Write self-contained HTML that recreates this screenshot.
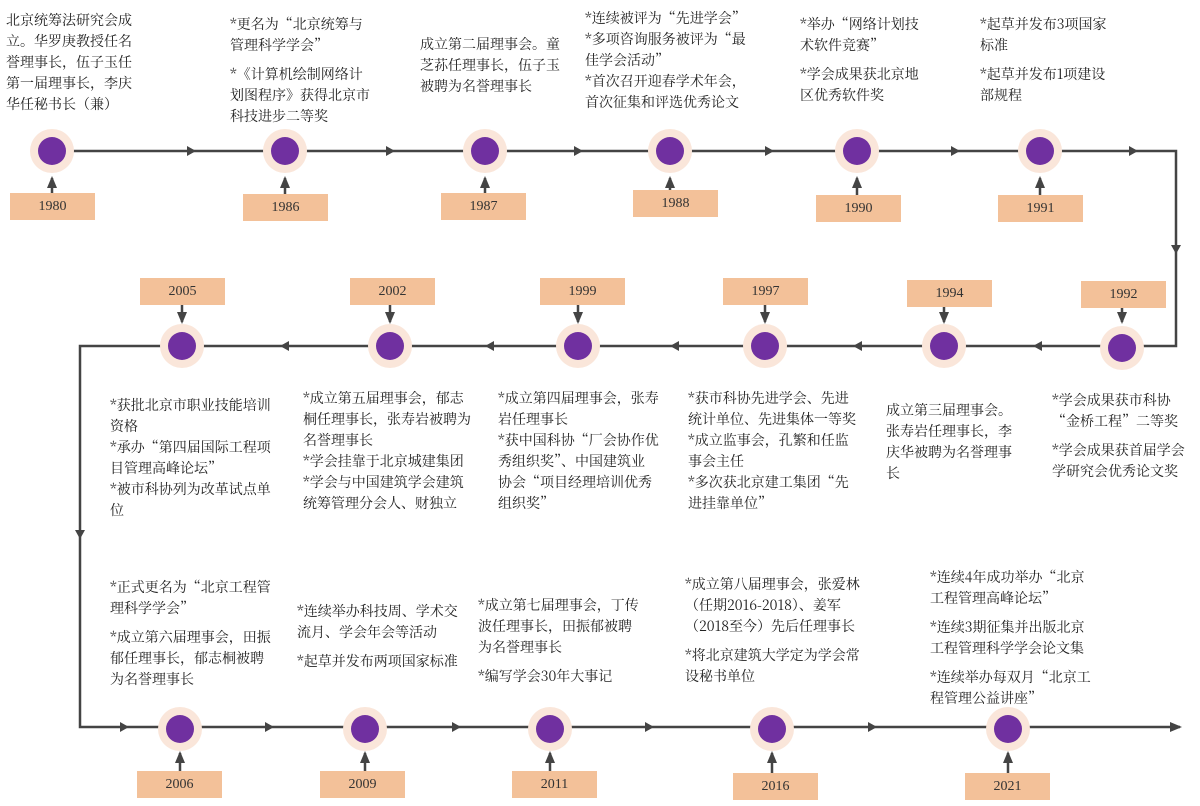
<!DOCTYPE html>
<html><head><meta charset="utf-8"><style>
body{margin:0;width:1200px;height:806px;background:#fff;position:relative;overflow:hidden;font-family:"Noto Serif CJK SC","Liberation Serif",serif;color:#222}
.t{position:absolute;font-size:14px;line-height:21px;white-space:nowrap}
.t p{margin:0 0 8px 0}
.y{position:absolute;width:85px;height:27px;background:#f3c199;font-size:14px;line-height:27px;text-align:center;color:#333;font-family:"Liberation Serif",serif}
svg{position:absolute;left:0;top:0}
</style></head><body>
<svg width="1200" height="806">
<defs>
<marker id="b" markerWidth="12" markerHeight="12" refX="10" refY="6" orient="auto" markerUnits="userSpaceOnUse"><path d="M0,1 L12,6 L0,11 z" fill="#444"/></marker></defs>
<g stroke="#444" stroke-width="2.5" fill="none">
<path d="M52,151 H1176 V346 H80 V727 H1180" marker-end="url(#b)"/>
</g>
<g stroke="#444" stroke-width="2.5">
<line x1="52" y1="193" x2="52" y2="178" marker-end="url(#b)"/>
<line x1="285" y1="194" x2="285" y2="178" marker-end="url(#b)"/>
<line x1="485" y1="193" x2="485" y2="178" marker-end="url(#b)"/>
<line x1="670" y1="190" x2="670" y2="178" marker-end="url(#b)"/>
<line x1="857" y1="195" x2="857" y2="178" marker-end="url(#b)"/>
<line x1="1040" y1="195" x2="1040" y2="178" marker-end="url(#b)"/>
<line x1="1122" y1="307" x2="1122" y2="322" marker-end="url(#b)"/>
<line x1="944" y1="307" x2="944" y2="322" marker-end="url(#b)"/>
<line x1="765" y1="305" x2="765" y2="322" marker-end="url(#b)"/>
<line x1="578" y1="305" x2="578" y2="322" marker-end="url(#b)"/>
<line x1="390" y1="305" x2="390" y2="322" marker-end="url(#b)"/>
<line x1="182" y1="305" x2="182" y2="322" marker-end="url(#b)"/>
<line x1="180" y1="771" x2="180" y2="753" marker-end="url(#b)"/>
<line x1="365" y1="771" x2="365" y2="753" marker-end="url(#b)"/>
<line x1="550" y1="771" x2="550" y2="753" marker-end="url(#b)"/>
<line x1="772" y1="773" x2="772" y2="753" marker-end="url(#b)"/>
<line x1="1008" y1="773" x2="1008" y2="753" marker-end="url(#b)"/>
</g>
<g fill="#444">
<path d="M187,146 L187,156 L196,151z"/><path d="M386,146 L386,156 L395,151z"/><path d="M574,146 L574,156 L583,151z"/><path d="M765,146 L765,156 L774,151z"/><path d="M951,146 L951,156 L960,151z"/><path d="M1129,146 L1129,156 L1138,151z"/>
<path d="M1171,245 L1181,245 L1176,254z"/>
<path d="M1042,341 L1042,351 L1033,346z"/><path d="M862,341 L862,351 L853,346z"/><path d="M679,341 L679,351 L670,346z"/><path d="M494,341 L494,351 L485,346z"/><path d="M289,341 L289,351 L280,346z"/>
<path d="M75,530 L85,530 L80,539z"/>
<path d="M120,722 L120,732 L129,727z"/><path d="M265,722 L265,732 L274,727z"/><path d="M452,722 L452,732 L461,727z"/><path d="M645,722 L645,732 L654,727z"/><path d="M868,722 L868,732 L877,727z"/>
</g>
<g>
<circle cx="52" cy="151" r="22" fill="#fae6da"/><circle cx="52" cy="151" r="14" fill="#7030a0"/>
<circle cx="285" cy="151" r="22" fill="#fae6da"/><circle cx="285" cy="151" r="14" fill="#7030a0"/>
<circle cx="485" cy="151" r="22" fill="#fae6da"/><circle cx="485" cy="151" r="14" fill="#7030a0"/>
<circle cx="670" cy="151" r="22" fill="#fae6da"/><circle cx="670" cy="151" r="14" fill="#7030a0"/>
<circle cx="857" cy="151" r="22" fill="#fae6da"/><circle cx="857" cy="151" r="14" fill="#7030a0"/>
<circle cx="1040" cy="151" r="22" fill="#fae6da"/><circle cx="1040" cy="151" r="14" fill="#7030a0"/>
<circle cx="1122" cy="348" r="22" fill="#fae6da"/><circle cx="1122" cy="348" r="14" fill="#7030a0"/>
<circle cx="944" cy="346" r="22" fill="#fae6da"/><circle cx="944" cy="346" r="14" fill="#7030a0"/>
<circle cx="765" cy="346" r="22" fill="#fae6da"/><circle cx="765" cy="346" r="14" fill="#7030a0"/>
<circle cx="578" cy="346" r="22" fill="#fae6da"/><circle cx="578" cy="346" r="14" fill="#7030a0"/>
<circle cx="390" cy="346" r="22" fill="#fae6da"/><circle cx="390" cy="346" r="14" fill="#7030a0"/>
<circle cx="182" cy="346" r="22" fill="#fae6da"/><circle cx="182" cy="346" r="14" fill="#7030a0"/>
<circle cx="180" cy="729" r="22" fill="#fae6da"/><circle cx="180" cy="729" r="14" fill="#7030a0"/>
<circle cx="365" cy="729" r="22" fill="#fae6da"/><circle cx="365" cy="729" r="14" fill="#7030a0"/>
<circle cx="550" cy="729" r="22" fill="#fae6da"/><circle cx="550" cy="729" r="14" fill="#7030a0"/>
<circle cx="772" cy="729" r="22" fill="#fae6da"/><circle cx="772" cy="729" r="14" fill="#7030a0"/>
<circle cx="1008" cy="729" r="22" fill="#fae6da"/><circle cx="1008" cy="729" r="14" fill="#7030a0"/>
</g>
</svg>
<div class="y" style="left:10px;top:193px">1980</div>
<div class="y" style="left:243px;top:194px">1986</div>
<div class="y" style="left:441px;top:193px">1987</div>
<div class="y" style="left:633px;top:190px">1988</div>
<div class="y" style="left:816px;top:195px">1990</div>
<div class="y" style="left:998px;top:195px">1991</div>
<div class="y" style="left:1081px;top:281px">1992</div>
<div class="y" style="left:907px;top:280px">1994</div>
<div class="y" style="left:723px;top:278px">1997</div>
<div class="y" style="left:540px;top:278px">1999</div>
<div class="y" style="left:350px;top:278px">2002</div>
<div class="y" style="left:140px;top:278px">2005</div>
<div class="y" style="left:137px;top:771px">2006</div>
<div class="y" style="left:320px;top:771px">2009</div>
<div class="y" style="left:512px;top:771px">2011</div>
<div class="y" style="left:733px;top:773px">2016</div>
<div class="y" style="left:965px;top:773px">2021</div>

<div class="t" style="left:6px;top:10px">北京统筹法研究会成<br>立。华罗庚教授任名<br>誉理事长，伍子玉任<br>第一届理事长，李庆<br>华任秘书长（兼）</div>
<div class="t" style="left:230px;top:14px"><p>*更名为“北京统筹与<br>管理科学学会”</p><p>*《计算机绘制网络计<br>划图程序》获得北京市<br>科技进步二等奖</p></div>
<div class="t" style="left:420px;top:34px">成立第二届理事会。童<br>芝荪任理事长，伍子玉<br>被聘为名誉理事长</div>
<div class="t" style="left:585px;top:8px">*连续被评为“先进学会”<br>*多项咨询服务被评为“最<br>佳学会活动”<br>*首次召开迎春学术年会，<br>首次征集和评选优秀论文</div>
<div class="t" style="left:800px;top:14px"><p>*举办“网络计划技<br>术软件竞赛”</p><p>*学会成果获北京地<br>区优秀软件奖</p></div>
<div class="t" style="left:980px;top:14px"><p>*起草并发布3项国家<br>标准</p><p>*起草并发布1项建设<br>部规程</p></div>

<div class="t" style="left:1052px;top:390px"><p>*学会成果获市科协<br>“金桥工程”二等奖</p><p>*学会成果获首届学会<br>学研究会优秀论文奖</p></div>
<div class="t" style="left:886px;top:400px">成立第三届理事会。<br>张寿岩任理事长，李<br>庆华被聘为名誉理事<br>长</div>
<div class="t" style="left:688px;top:388px">*获市科协先进学会、先进<br>统计单位、先进集体一等奖<br>*成立监事会，孔繁和任监<br>事会主任<br>*多次获北京建工集团“先<br>进挂靠单位”</div>
<div class="t" style="left:498px;top:388px">*成立第四届理事会，张寿<br>岩任理事长<br>*获中国科协“厂会协作优<br>秀组织奖”、中国建筑业<br>协会“项目经理培训优秀<br>组织奖”</div>
<div class="t" style="left:303px;top:388px">*成立第五届理事会，郁志<br>桐任理事长，张寿岩被聘为<br>名誉理事长<br>*学会挂靠于北京城建集团<br>*学会与中国建筑学会建筑<br>统筹管理分会人、财独立</div>
<div class="t" style="left:110px;top:395px">*获批北京市职业技能培训<br>资格<br>*承办“第四届国际工程项<br>目管理高峰论坛”<br>*被市科协列为改革试点单<br>位</div>

<div class="t" style="left:110px;top:577px"><p>*正式更名为“北京工程管<br>理科学学会”</p><p>*成立第六届理事会，田振<br>郁任理事长，郁志桐被聘<br>为名誉理事长</p></div>
<div class="t" style="left:297px;top:601px"><p>*连续举办科技周、学术交<br>流月、学会年会等活动</p><p>*起草并发布两项国家标准</p></div>
<div class="t" style="left:478px;top:595px"><p>*成立第七届理事会，丁传<br>波任理事长，田振郁被聘<br>为名誉理事长</p><p>*编写学会30年大事记</p></div>
<div class="t" style="left:685px;top:574px"><p>*成立第八届理事会，张爱林<br>（任期2016-2018）、姜军<br>（2018至今）先后任理事长</p><p>*将北京建筑大学定为学会常<br>设秘书单位</p></div>
<div class="t" style="left:930px;top:567px"><p>*连续4年成功举办“北京<br>工程管理高峰论坛”</p><p>*连续3期征集并出版北京<br>工程管理科学学会论文集</p><p>*连续举办每双月“北京工<br>程管理公益讲座”</p></div>
</body></html>
